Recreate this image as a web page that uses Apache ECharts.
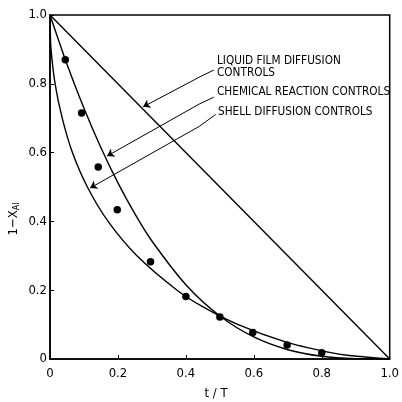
<!DOCTYPE html>
<html>
<head>
<meta charset="utf-8">
<script src="https://cdn.jsdelivr.net/npm/echarts@6/dist/echarts.min.js"></script>
<style>
  html, body { margin: 0; padding: 0; background: #fff; }
  #chart { width: 402px; height: 402px; }
</style>
</head>
<body>
<div id="chart"></div>
<script>
// tick labels
const xTicks = [0, 0.2, 0.4, 0.6, 0.8, 1.0]
const yTicks = [0, 0.2, 0.4, 0.6, 0.8, 1.0]

// liquid film diffusion controls (straight line)
const liquidT = [0, 1.0]
const liquidY = [1.0, 0]

// chemical reaction controls
const chemT = [0, 0.05, 0.1, 0.15, 0.2, 0.25, 0.3, 0.4, 0.5, 0.6, 0.7, 0.8, 0.9, 1.0]
const chemY = [1.0, 0.857, 0.729, 0.614, 0.512, 0.422, 0.343, 0.216, 0.125, 0.064, 0.027, 0.008, 0.001, 0]

// shell diffusion controls
const shellT = [0, 0.001, 0.003, 0.015, 0.036, 0.066, 0.11, 0.171, 0.256, 0.374, 0.453, 0.554, 0.693, 0.819, 0.881, 1.0]
const shellY = [1.0, 0.95, 0.9, 0.8, 0.7, 0.6, 0.5, 0.4, 0.3, 0.2, 0.15, 0.1, 0.05, 0.02, 0.01, 0]

// measured points
const obsT = [0.045, 0.093, 0.142, 0.198, 0.296, 0.4, 0.5, 0.597, 0.698, 0.8]
const obsY = [0.87, 0.715, 0.558, 0.434, 0.283, 0.182, 0.122, 0.077, 0.041, 0.018]

const pairs = (xs, ys) => xs.map((x, i) => [x, ys[i]])
const tickText = (v) => (v === 0 ? '0' : v.toFixed(1))

const font = '"DejaVu Sans Condensed", "DejaVu Sans", sans-serif'

const chart = echarts.init(document.getElementById('chart'))

// leader lines from the labels to the curves
const leader = (a, b, arrow) => [
  { coord: a, symbol: 'none' },
  { coord: b, symbol: arrow ? 'arrow' : 'none' },
]

const option = {
  animation: false,
  backgroundColor: '#fff',
  grid: {
    left: 50,
    right: 10,
    top: 15,
    bottom: 43,
    show: true,
    borderColor: '#000',
    borderWidth: 1.5,
  },
  xAxis: {
    type: 'value',
    min: 0,
    max: 1,
    interval: 0.2,
    axisLine: { lineStyle: { color: '#000', width: 1.5 } },
    axisTick: { show: true, inside: true, length: 4, lineStyle: { color: '#000' } },
    splitLine: { show: false },
    axisLabel: {
      color: '#000',
      fontFamily: font,
      fontSize: 13,
      margin: 8,
      formatter: (v) => (xTicks.includes(v) ? tickText(v) : ''),
    },
  },
  yAxis: {
    type: 'value',
    min: 0,
    max: 1,
    interval: 0.2,
    axisLine: { lineStyle: { color: '#000', width: 1.5 } },
    axisTick: { show: true, inside: true, length: 4, lineStyle: { color: '#000' } },
    splitLine: { show: false },
    axisLabel: {
      color: '#000',
      fontFamily: font,
      fontSize: 13,
      margin: 3,
      formatter: (v) => (yTicks.includes(v) ? tickText(v) : ''),
    },
  },
  series: [
    {
      name: 'liquid',
      type: 'line',
      data: pairs(liquidT, liquidY),
      showSymbol: false,
      lineStyle: { color: '#000', width: 1.4 },
      markLine: {
        silent: true,
        symbolSize: 7,
        label: { show: false },
        lineStyle: { color: '#000', width: 1, type: 'solid' },
        data: [
          leader([0.482, 0.84], [0.439, 0.819], false),
          leader([0.439, 0.819], [0.274, 0.733], true),
          leader([0.482, 0.761], [0.439, 0.741], false),
          leader([0.439, 0.741], [0.168, 0.59], true),
          leader([0.488, 0.711], [0.439, 0.676], false),
          leader([0.439, 0.676], [0.118, 0.497], true),
        ],
      },
    },
    {
      name: 'chem',
      type: 'line',
      data: pairs(chemT, chemY),
      showSymbol: false,
      smooth: 0.3,
      lineStyle: { color: '#000', width: 1.4 },
    },
    {
      name: 'shell',
      type: 'line',
      data: pairs(shellT, shellY),
      showSymbol: false,
      smooth: 0.3,
      lineStyle: { color: '#000', width: 1.4 },
    },
    {
      name: 'obs',
      type: 'scatter',
      data: pairs(obsT, obsY),
      symbol: 'circle',
      symbolSize: 7.5,
      itemStyle: { color: '#000', opacity: 1 },
    },
  ],
  graphic: [
    {
      type: 'text',
      left: 217,
      top: 55,
      style: {
        text: 'LIQUID FILM DIFFUSION\nCONTROLS',
        font: '11.7px ' + font,
        lineHeight: 12,
        fill: '#000',
      },
    },
    {
      type: 'text',
      left: 217,
      top: 86,
      style: { text: 'CHEMICAL REACTION CONTROLS', font: '11.7px ' + font, fill: '#000' },
    },
    {
      type: 'text',
      left: 218,
      top: 106,
      style: { text: 'SHELL DIFFUSION CONTROLS', font: '11.7px ' + font, fill: '#000' },
    },
    {
      type: 'text',
      x: 216,
      y: 394,
      style: {
        text: 't / T',
        font: '13px ' + font,
        fill: '#000',
        align: 'center',
        verticalAlign: 'middle',
      },
    },
    {
      type: 'text',
      x: 14,
      y: 219,
      rotation: Math.PI / 2,
      style: {
        text: '{m|1−X}{s|Al}',
        align: 'center',
        verticalAlign: 'middle',
        fill: '#000',
        rich: {
          m: { fontFamily: font, fontSize: 13, fill: '#000', verticalAlign: 'middle' },
          s: { fontFamily: font, fontSize: 9, fill: '#000', verticalAlign: 'bottom', padding: [6, 0, 0, 0] },
        },
      },
    },
  ],
}

chart.setOption(option)
</script>
</body>
</html>
